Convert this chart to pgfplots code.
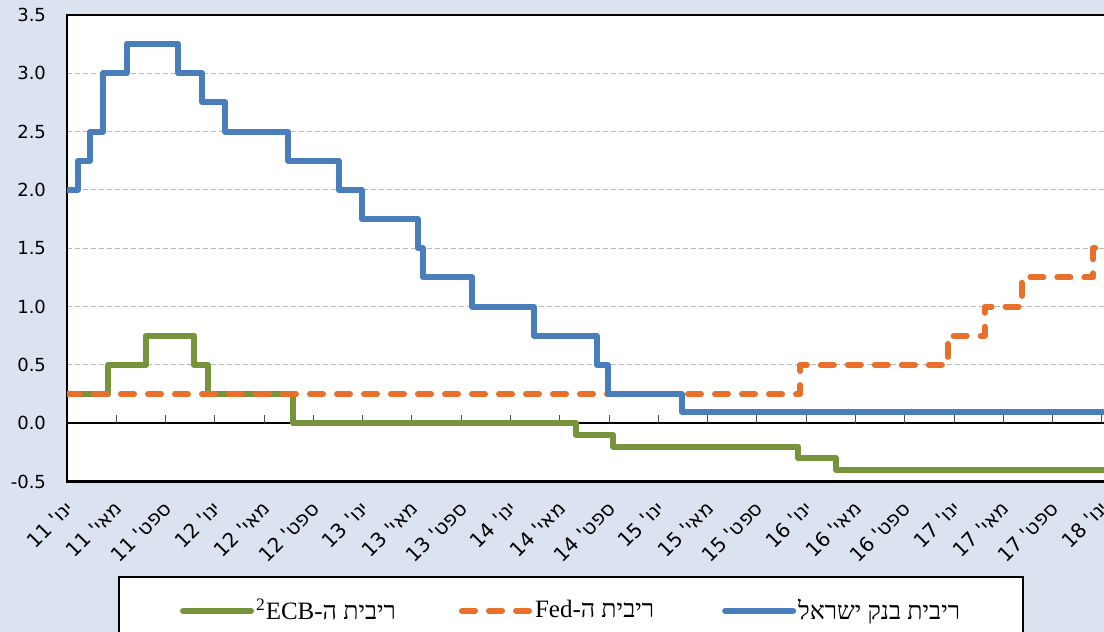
\documentclass[border=0pt]{standalone}
\usepackage{fontspec}
\usepackage{pgfplots}
\pgfplotsset{compat=1.18}
\TeXXeTstate=1
\newfontfamily\hebsans[Script=Hebrew]{DejaVu Sans}
\newfontfamily\numsans{DejaVu Sans}
\newfontfamily\hebserif[Script=Hebrew]{Liberation Serif}
\definecolor{bgc}{HTML}{DCE3F0}
\definecolor{boi}{HTML}{4A7EBB}
\definecolor{fed}{HTML}{E8702A}
\definecolor{ecb}{HTML}{77933C}
\newcommand\R[1]{\beginR#1\endR}
\newcommand\sep{\kern0pt}
\begin{document}
\begin{tikzpicture}
\fill[bgc] (0,0) rectangle (552pt,316pt);
\useasboundingbox (0,0) rectangle (552pt,316pt);
\begin{axis}[
  at={(33.5pt,75.25pt)}, anchor=south west,
  scale only axis, width=520.5pt, height=233.25pt,
  xmin=0, xmax=84.5, ymin=-0.5, ymax=3.5,
  axis background/.style={fill=white},
  axis line style={line width=1.2pt, black},
  ytick={-0.5,0,...,3.5},
  ymajorgrids,
  major grid style={gray!55, line width=0.5pt, dash pattern=on 2.5pt off 1.5pt},
  tick style={draw=none},
  /pgf/number format/fixed,
  /pgf/number format/fixed zerofill,
  /pgf/number format/precision=1,
  /pgf/number format/assume math mode=true,
  yticklabel style={font=\numsans\fontsize{9}{10}\selectfont, xshift=-7pt},
  xtick={0,4,...,84},
  xticklabels={\R{ינו' 11},\R{מאי' 11},\R{ספט' 11},
               \R{ינו' 12},\R{מאי' 12},\R{ספט' 12},
               \R{ינו' 13},\R{מאי' 13},\R{ספט' 13},
               \R{ינו' 14},\R{מאי' 14},\R{ספט' 14},
               \R{ינו' 15},\R{מאי' 15},\R{ספט' 15},
               \R{ינו' 16},\R{מאי' 16},\R{ספט' 16},
               \R{ינו' 17},\R{מאי' 17},\R{ספט' 17},
               \R{ינו' 18}},
  xticklabel style={font=\hebsans\fontsize{10}{11}\selectfont, rotate=45, anchor=east, xshift=-4pt, yshift=-9pt},
  legend columns=3,
  legend style={at={(0.049,-0.2026)}, anchor=north west, draw=black, line width=1pt, fill=white,
     inner xsep=30.5pt, inner ysep=10pt, font=\hebserif\fontsize{12.5}{14}\selectfont,
     /tikz/every odd column/.append style={column sep=0pt},
     /tikz/column 2/.style={column sep=30.5pt},
     /tikz/column 4/.style={column sep=33pt},
     /tikz/column 6/.style={column sep=0pt},
     nodes={inner sep=1pt}},
  legend image code/.code={\draw[#1,line cap=round] (0pt,0pt) -- (34pt,0pt);},
]
\draw[black, line width=0.7pt] (axis cs:0,0) -- (axis cs:84.5,0);
\pgfplotsinvokeforeach{4,8,...,84}{\draw[black!70, line width=0.5pt] (axis cs:#1,0) -- ++(0pt,4pt);}

\addplot[ecb, line width=3pt, const plot, line join=round] coordinates {
(0,0.25) (3.35,0.5) (6.4,0.75) (10.3,0.5) (11.46,0.25) (18.37,0) (41.3,-0.1) (44.35,-0.2) (59.36,-0.3) (62.4,-0.4) (84.5,-0.4)};
\addlegendentry{\R{ריבית ה\sep-\sep ECB\sep\textsuperscript{2}}}

\addplot[fed, line width=3pt, const plot, dash pattern=on 6.5pt off 7pt, line cap=round, line join=round] coordinates {
(0,0.25) (59.5,0.5) (71.5,0.75) (74.5,1.0) (77.5,1.25) (83.3,1.5) (84.5,1.5)};
\addlegendentry{\R{ריבית ה\sep-\sep Fed}}

\addplot[boi, line width=3pt, const plot, line join=round] coordinates {
(0,2.0) (0.87,2.25) (1.87,2.5) (2.92,3.0) (4.85,3.25) (9.05,3.0) (10.98,2.75) (12.85,2.5) (17.96,2.25) (22.05,2.0) (23.92,1.75) (28.47,1.5) (28.9,1.25) (32.9,1.0) (37.9,0.75) (43.0,0.5) (43.9,0.25) (49.9,0.1) (84.5,0.1)};
\addlegendentry{\R{ריבית בנק ישראל}}
\end{axis}
\end{tikzpicture}
\end{document}
